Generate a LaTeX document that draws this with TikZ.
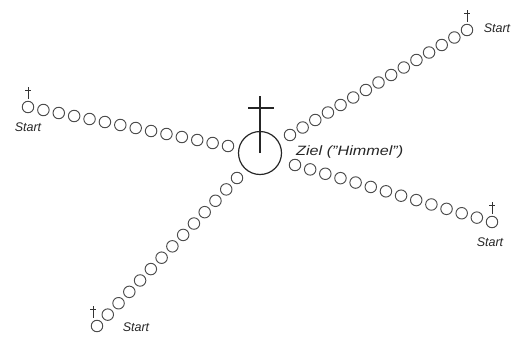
\documentclass[tikz,border=0pt]{standalone}
\usepackage{fontspec}
\setsansfont{Liberation Sans}
\begin{document}
\begin{tikzpicture}[x=1pt,y=-1pt]
\tikzset{
  bead/.style={circle,draw=black!70,line width=0.95pt,minimum size=11.5pt,inner sep=0pt},
  lbl/.style={font=\sffamily\itshape\fontsize{12.5}{12.5}\selectfont,text=black!85,inner sep=0pt},
  dagger/.pic={\draw[line width=0.9pt,black!80] (0,0) -- (0,-12); \draw[line width=0.9pt,black!80] (-3,-8.5) -- (3,-8.5);}
}
\useasboundingbox (0,0) rectangle (518,338);
% arms of beads
\foreach \name/\ax/\ay/\bx/\by/\n in {ul/28/107/228/146/14, ur/467/30/290/135/15, lr/492/222/295/165/14, ll/97/326/237/178/14}{
  \pgfmathtruncatemacro\m{\n-1}
  \foreach \i in {0,...,\m}{
    \pgfmathsetmacro\px{\ax+(\bx-\ax)*\i/\m}
    \pgfmathsetmacro\py{\ay+(\by-\ay)*\i/\m}
    \node[bead] (\name\i) at (\px,\py) {};
  }
}
% goal
\node[circle,draw=black!85,line width=1.2pt,minimum size=43pt,inner sep=0pt] (goal) at (260,153) {};
\coordinate (crosstop) at (260,96);
\coordinate (barl) at (248,108);
\coordinate (barr) at (274,108);
\draw[line width=1.1pt,black!85] (goal.center) -- (crosstop);
\draw[line width=1.1pt,black!85] (barl) -- (barr);
% daggers above the start beads
\pic at ([yshift=2pt]ul0.north) {dagger};
\pic at ([yshift=2pt]ur0.north) {dagger};
\pic at ([yshift=2pt]lr0.north) {dagger};
\pic at ([xshift=-4pt,yshift=2pt]ll0.north) {dagger};
% labels
\node[lbl] (sul) at (28,127) {Start};
\node[lbl] (sur) at (497,28) {Start};
\node[lbl] (slr) at (490,242) {Start};
\node[lbl] (sll) at (136,327) {Start};
\node[lbl,anchor=west,font=\sffamily\itshape\fontsize{13.5}{13.5}\selectfont] (ziel) at (296,152) {\scalebox{1.2}[1]{Ziel ("Himmel")}};
\end{tikzpicture}
\end{document}
